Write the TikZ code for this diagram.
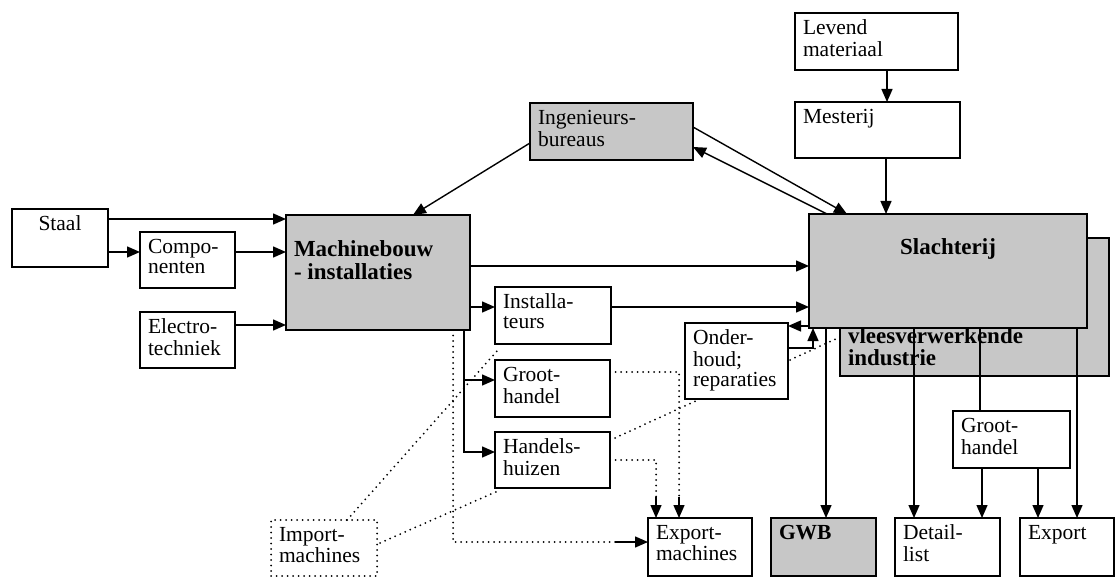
\documentclass[tikz,border=0pt]{standalone}
\usepackage{fontspec}
\setmainfont{Liberation Serif}
\usetikzlibrary{arrows.meta}
\definecolor{shade}{gray}{0.78}
\newcommand\bt[3]{\parbox[c][\dimexpr#2pt-14pt\relax][t]{\dimexpr#1pt-16pt\relax}{\strut#3}}
\tikzset{
  box/.style={draw, line width=1.4pt, inner xsep=8pt, inner ysep=7pt, anchor=north west, outer sep=0pt, font=\fontsize{21.5}{20}\selectfont},
  gbox/.style={box, fill=shade},
  arr/.style={line width=1.4pt, -{Triangle[length=13pt,width=11pt]}},
  ln/.style={line width=1.4pt},
  dots/.style={line width=2pt, dash pattern=on 0pt off 5.5pt, line cap=round},
}
\begin{document}
\begin{tikzpicture}[x=1pt,y=-1pt]
\useasboundingbox (0,0) rectangle (1119,577);
% boxes
\node[box] (staal) at (12,209) {\bt{96}{58}{\centering Staal}};
\node[box] (comp) at (140,232) {\bt{95}{56}{Compo-\\nenten}};
\node[box] (elec) at (140,312) {\bt{95}{56}{Electro-\\techniek}};
\node[gbox] (mach) at (286,215) {\bt{184}{115}{\bfseries\fontsize{23}{20}\selectfont\rule{0pt}{35pt}Machinebouw\\- installaties}};
\node[gbox] (ing) at (530,103) {\bt{163}{57}{Ingenieurs-\\bureaus}};
\node[box] (lev) at (795,13) {\bt{163}{57}{Levend\\materiaal}};
\node[box] (mest) at (795,102) {\bt{165}{56}{Mesterij}};
\node[gbox] (vlees) at (840,238) {\bt{269}{138}{\bfseries\fontsize{23}{22}\selectfont\rule{0pt}{98pt}vleesverwerkende\\industrie}};
\node[gbox] (sl) at (809,214) {\bt{278}{114}{\centering\bfseries\fontsize{23}{20}\selectfont\rule{0pt}{34pt}Slachterij}};
\node[box] (inst) at (495,287) {\bt{116}{57}{Installa-\\teurs}};
\node[box, fill=white] (ond) at (685,323) {\bt{103}{76}{Onder-\\houd;\\reparaties}};
\node[box] (groot) at (495,360) {\bt{115}{57}{Groot-\\handel}};
\node[box] (hand) at (495,432) {\bt{115}{56}{Handels-\\huizen}};
\node[box] (expm) at (648,518) {\bt{104}{58}{Export-\\machines}};
\node[box, dots] (imp) at (271,520) {\bt{106}{56}{Import-\\machines}};
\node[gbox] (gwb) at (771,518) {\bt{105}{58}{\bfseries GWB}};
\node[box] (det) at (895,518) {\bt{105}{58}{Detail-\\list}};
\node[box] (exp) at (1020,518) {\bt{94}{58}{Export}};
\node[box] (grootR) at (953,411) {\bt{117}{57}{Groot-\\handel}};
% connectors
\draw[arr] ([yshift=-10pt]staal.north east) coordinate (p1) -- (p1 -| mach.west);
\coordinate (p2) at ([yshift=-20pt]comp.north west);
\draw[arr] (p2 -| staal.east) -- (p2);
\draw[arr] (p2 -| comp.east) -- (p2 -| mach.west);
\draw[arr] ([yshift=-13pt]elec.north east) coordinate (p3) -- (p3 -| mach.west);
\draw[arr] ([yshift=-40pt]ing.north west) -- ([xshift=127pt]mach.north west);
\draw[arr] ([yshift=-24pt]ing.north east) -- ([xshift=38pt]sl.north west);
\draw[arr] ([xshift=18pt]sl.north west) -- ([yshift=-44pt]ing.north east);
\draw[arr] ([xshift=92pt]lev.south west) coordinate (p4) -- (p4 |- mest.north);
\draw[arr] ([xshift=91pt]mest.south west) coordinate (p5) -- (p5 |- sl.north);
\draw[arr] ([yshift=-51pt]mach.north east) coordinate (p6) -- (p6 -| sl.west);
\draw[arr] ([yshift=-92pt]mach.north east) coordinate (p7) -- (p7 -| inst.west);
\draw[arr] (p7 -| inst.east) -- (p7 -| sl.west);
\draw[arr] ([yshift=2pt]sl.south west) coordinate (p8) -- (p8 -| ond.east);
\draw[arr] ([yshift=-25pt]ond.north east) -| ([xshift=4pt]sl.south west);
\draw[arr] ([xshift=-6pt]mach.south east) coordinate (p9) |- ([yshift=-20pt]groot.north west);
\draw[arr] (p9) |- ([yshift=-20pt]hand.north west);
\draw[dots] ([xshift=-17pt]mach.south east) |- ([shift={(-33pt,-24pt)}]expm.north west) coordinate (e1);
\draw[arr] (e1) -- (e1 -| expm.west);
\draw[dots] ([yshift=-12pt]groot.north east) -| ([shift={(31pt,21pt)}]expm.north west) coordinate (e2);
\draw[arr] (e2) -- (e2 |- expm.north);
\draw[dots] ([yshift=-28pt]hand.north east) -| ([shift={(8pt,21pt)}]expm.north west) coordinate (e3);
\draw[arr] (e3) -- (e3 |- expm.north);
\draw[dots] ([xshift=76pt]imp.north west) -- ([shift={(2pt,-7pt)}]inst.south west);
\draw[dots] ([shift={(3pt,-23pt)}]imp.north east) -- ([shift={(3pt,-3pt)}]hand.south west);
\draw[dots] ([shift={(5pt,-6pt)}]hand.north east) -- ([xshift=15pt]ond.south west);
\draw[dots] ([shift={(2pt,-37pt)}]ond.north east) -- ([yshift=-99pt]vlees.north west);
\draw[arr] ([xshift=17pt]sl.south west) coordinate (q1) -- (q1 |- gwb.north);
\draw[arr] ([xshift=105pt]sl.south west) coordinate (q2) -- (q2 |- det.north);
\draw[ln] ([xshift=171pt]sl.south west) coordinate (q3) -- (q3 |- grootR.north);
\draw[arr] ([xshift=268pt]sl.south west) coordinate (q4) -- (q4 |- exp.north);
\draw[arr] ([xshift=29pt]grootR.south west) coordinate (q5) -- (q5 |- det.north);
\draw[arr] ([xshift=85pt]grootR.south west) coordinate (q6) -- (q6 |- exp.north);
\end{tikzpicture}
\end{document}
